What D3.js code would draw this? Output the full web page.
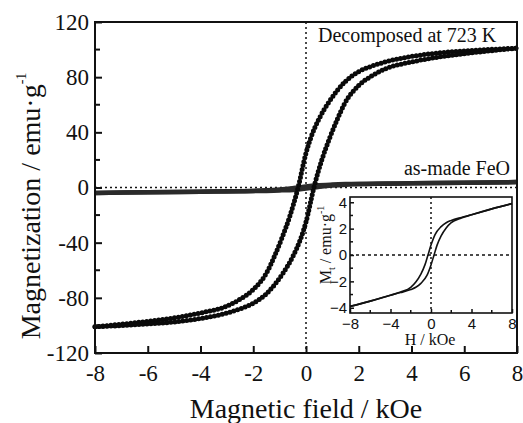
<!DOCTYPE html>
<html>
<head>
<meta charset="utf-8">
<script src="https://cdn.jsdelivr.net/npm/d3@7"></script>
<style>
  body { margin: 0; background: #fff; }
  svg { display: block; }
  text { font-family: "Liberation Serif", "Times New Roman", serif; fill: #111; }
  .inset-tick text { font-family: "Liberation Sans", Arial, sans-serif; }
</style>
</head>
<body>
<svg id="chart" width="523" height="423"></svg>
<script>
// decomposed at 723 K, descending branch (from +8 kOe)
var decDescH = [-8, -6, -5, -4, -3, -2.5, -2, -1.44, -1.2, -0.9, -0.6, -0.3, 0, 0.2, 0.5, 0.87, 1.5, 2, 2.5, 3, 4, 5, 6, 8];
var decDescM = [-101, -97, -94.5, -91, -86, -81, -74, -60, -50, -36, -20, 0, 25, 37, 50, 62, 77, 84, 88, 91, 95, 97.5, 99, 101];
// decomposed, ascending branch
var decAscH = [-8, -6, -5, -4, -3, -2.5, -2, -1.5, -0.87, -0.5, -0.2, 0, 0.3, 0.6, 0.9, 1.2, 1.44, 2, 2.5, 3, 4, 5, 6, 8];
var decAscM = [-101, -99, -97.5, -95, -91, -88, -84, -77, -62, -50, -37, -25, 0, 20, 36, 50, 60, 74, 81, 86, 91, 94.5, 97, 101];

// as-made FeO loop (also the inset)
var feoDescH = [-8, -6, -4, -3, -2, -1.5, -1, -0.6, -0.3, 0, 0.4, 1, 1.5, 2, 3, 4, 6, 8];
var feoDescM = [-3.9, -3.5, -3.05, -2.8, -2.45, -2.05, -1.45, -0.75, 0, 0.75, 1.55, 2.15, 2.45, 2.62, 2.85, 3.05, 3.5, 3.9];
var feoAscH = [-8, -6, -4, -3, -2, -1.5, -1, -0.4, 0, 0.3, 0.6, 1, 1.5, 2, 3, 4, 6, 8];
var feoAscM = [-3.9, -3.5, -3.05, -2.85, -2.62, -2.45, -2.15, -1.55, -0.75, 0, 0.75, 1.45, 2.05, 2.45, 2.8, 3.05, 3.5, 3.9];

var xTicks = [-8, -6, -4, -2, 0, 2, 4, 6, 8];
var yTicks = [-120, -80, -40, 0, 40, 80, 120];
var yMinor = [-100, -60, -20, 20, 60, 100];
var insetXTicks = [-8, -4, 0, 4, 8];
var insetXMinor = [-6, -2, 2, 6];
var insetYTicks = [-4, -2, 0, 2, 4];
var insetYMinor = [-3, -1, 1, 3];

var svg = d3.select("#chart");

function pairs(h, m) {
	return h.map(function (d, i) { return [d, m[i]]; });
}

// main plot
var x = d3.scaleLinear().domain([-8, 8]).range([95, 517]);
var y = d3.scaleLinear().domain([-120, 120]).range([353, 22]);

var main = svg.append("g");

main.append("line")
	.attr("x1", x(0)).attr("x2", x(0)).attr("y1", y(120)).attr("y2", y(-120))
	.attr("stroke", "#111").attr("stroke-width", 1.5).attr("stroke-dasharray", "2,3");
main.append("line")
	.attr("x1", x(-8)).attr("x2", x(8)).attr("y1", y(0)).attr("y2", y(0))
	.attr("stroke", "#111").attr("stroke-width", 1.5).attr("stroke-dasharray", "2,3");

var line = d3.line()
	.x(function (d) { return x(d[0]); })
	.y(function (d) { return y(d[1]); })
	.curve(d3.curveMonotoneX);

// FeO band
[pairs(feoDescH, feoDescM), pairs(feoAscH, feoAscM)].forEach(function (pts) {
	main.append("path")
		.attr("d", line(pts))
		.attr("fill", "none")
		.attr("stroke", "#2a2a2a")
		.attr("stroke-width", 4.5);
});

// decomposed loop, drawn as beads
[pairs(decDescH, decDescM), pairs(decAscH, decAscM)].forEach(function (pts) {
	main.append("path")
		.attr("d", line(pts))
		.attr("fill", "none")
		.attr("stroke", "#0a0a0a")
		.attr("stroke-width", 5)
		.attr("stroke-linecap", "round")
		.attr("stroke-dasharray", "0 4");
});

// frame
main.append("rect")
	.attr("x", x(-8)).attr("y", y(120))
	.attr("width", x(8) - x(-8)).attr("height", y(-120) - y(120))
	.attr("fill", "none").attr("stroke", "#111").attr("stroke-width", 2);

// axes
var xAxis = main.append("g")
	.attr("transform", "translate(0," + y(-120) + ")")
	.call(d3.axisBottom(x).tickValues(xTicks).tickSize(-7).tickPadding(12)
		.tickFormat(function (d) { return String(d); }));
xAxis.select(".domain").remove();
xAxis.selectAll("line").attr("stroke", "#111").attr("stroke-width", 2);
xAxis.selectAll("text").attr("font-size", 23).attr("dy", "0.71em")
	.style("font-family", "'Liberation Serif', serif");

var yAxis = main.append("g")
	.attr("transform", "translate(" + x(-8) + ",0)")
	.call(d3.axisLeft(y).tickValues(yTicks).tickSize(-7).tickPadding(6)
		.tickFormat(function (d) { return String(d); }));
yAxis.select(".domain").remove();
yAxis.selectAll("line").attr("stroke", "#111").attr("stroke-width", 2);
yAxis.selectAll("text").attr("font-size", 23)
	.style("font-family", "'Liberation Serif', serif");

main.selectAll(".yminor").data(yMinor).enter().append("line")
	.attr("x1", x(-8)).attr("x2", x(-8) + 5)
	.attr("y1", function (d) { return y(d); }).attr("y2", function (d) { return y(d); })
	.attr("stroke", "#111").attr("stroke-width", 2);

// titles
main.append("text")
	.attr("x", 306).attr("y", 418)
	.attr("text-anchor", "middle").attr("font-size", 28)
	.text("Magnetic field / kOe");

var yt = main.append("text")
	.attr("transform", "translate(40,206) rotate(-90)")
	.attr("text-anchor", "middle").attr("font-size", 28);
yt.append("tspan").text("Magnetization / emu·g");
yt.append("tspan").attr("dy", -14).attr("font-size", 14).text("-1");

main.append("text")
	.attr("x", 318).attr("y", 42).attr("font-size", 20)
	.text("Decomposed at 723 K");
main.append("text")
	.attr("x", 510).attr("y", 175).attr("text-anchor", "end").attr("font-size", 20)
	.text("as-made FeO");

// inset
var ix = d3.scaleLinear().domain([-8, 8]).range([350, 512]);
var iy = d3.scaleLinear().domain([-4.4, 4.4]).range([313, 197]);

var inset = svg.append("g");
inset.append("rect")
	.attr("x", ix(-8)).attr("y", iy(4.4))
	.attr("width", ix(8) - ix(-8)).attr("height", iy(-4.4) - iy(4.4))
	.attr("fill", "#fff");

inset.append("line")
	.attr("x1", ix(0)).attr("x2", ix(0)).attr("y1", iy(4.4)).attr("y2", iy(-4.4))
	.attr("stroke", "#111").attr("stroke-width", 1.5).attr("stroke-dasharray", "2,3");
inset.append("line")
	.attr("x1", ix(-8)).attr("x2", ix(8)).attr("y1", iy(0)).attr("y2", iy(0))
	.attr("stroke", "#111").attr("stroke-width", 1.5).attr("stroke-dasharray", "3,3");

var iline = d3.line()
	.x(function (d) { return ix(d[0]); })
	.y(function (d) { return iy(d[1]); })
	.curve(d3.curveMonotoneX);

[pairs(feoDescH, feoDescM), pairs(feoAscH, feoAscM)].forEach(function (pts) {
	inset.append("path")
		.attr("d", iline(pts))
		.attr("fill", "none")
		.attr("stroke", "#111")
		.attr("stroke-width", 1.6);
});

inset.append("rect")
	.attr("x", ix(-8)).attr("y", iy(4.4))
	.attr("width", ix(8) - ix(-8)).attr("height", iy(-4.4) - iy(4.4))
	.attr("fill", "none").attr("stroke", "#111").attr("stroke-width", 1.6);

function minus(d) { return d < 0 ? "\u2212" + Math.abs(d) : String(d); }

var ixAxis = inset.append("g")
	.attr("class", "inset-tick")
	.attr("transform", "translate(0," + iy(-4.4) + ")")
	.call(d3.axisBottom(ix).tickValues(insetXTicks).tickSize(-4).tickPadding(5).tickFormat(minus));
ixAxis.select(".domain").remove();
ixAxis.selectAll("line").attr("stroke", "#111").attr("stroke-width", 1.5);
ixAxis.selectAll("text").attr("font-size", 15);

var iyAxis = inset.append("g")
	.attr("class", "inset-tick")
	.attr("transform", "translate(" + ix(-8) + ",0)")
	.call(d3.axisLeft(iy).tickValues(insetYTicks).tickSize(-4).tickPadding(3).tickFormat(minus));
iyAxis.select(".domain").remove();
iyAxis.selectAll("line").attr("stroke", "#111").attr("stroke-width", 1.5);
iyAxis.selectAll("text").attr("font-size", 15);

inset.selectAll(".ixminor").data(insetXMinor).enter().append("line")
	.attr("x1", function (d) { return ix(d); }).attr("x2", function (d) { return ix(d); })
	.attr("y1", iy(-4.4)).attr("y2", iy(-4.4) - 3)
	.attr("stroke", "#111").attr("stroke-width", 1.5);
inset.selectAll(".iyminor").data(insetYMinor).enter().append("line")
	.attr("x1", ix(-8)).attr("x2", ix(-8) + 3)
	.attr("y1", function (d) { return iy(d); }).attr("y2", function (d) { return iy(d); })
	.attr("stroke", "#111").attr("stroke-width", 1.5);

inset.append("text")
	.attr("x", 430).attr("y", 345).attr("text-anchor", "middle").attr("font-size", 16)
	.text("H / kOe");

var iyt = inset.append("text")
	.attr("transform", "translate(331,245) rotate(-90)")
	.attr("text-anchor", "middle").attr("font-size", 16);
iyt.append("tspan").text("M");
iyt.append("tspan").attr("dy", 4).attr("font-size", 10).text("t");
iyt.append("tspan").attr("dy", -4).text(" / emu·g");
iyt.append("tspan").attr("dy", -7).attr("font-size", 10).text("-1");
</script>
</body>
</html>
